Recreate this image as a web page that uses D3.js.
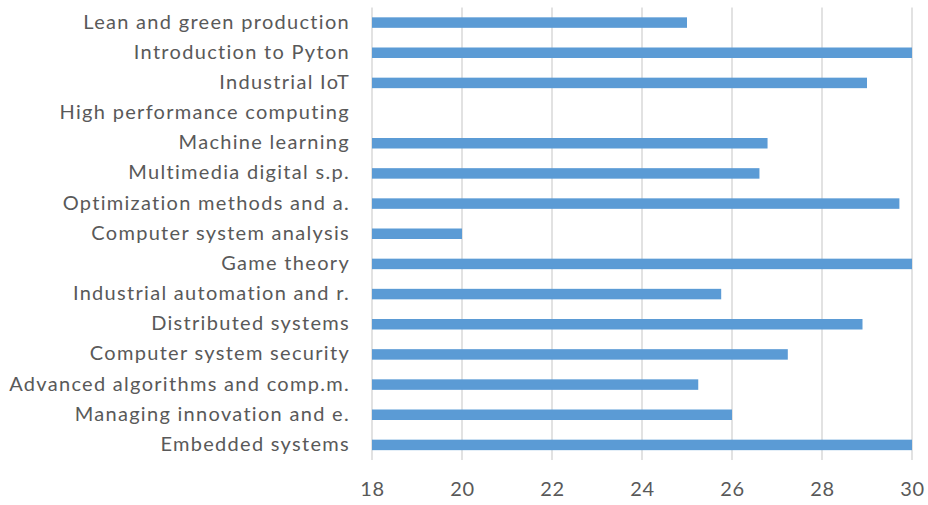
<!DOCTYPE html>
<html><head><meta charset="utf-8">
<script src="https://cdn.jsdelivr.net/npm/d3@7"></script>
<style>body{margin:0;background:#fff}svg{display:block}</style>
</head><body>
<script>
const categories = ["Lean and green production","Introduction to Pyton","Industrial IoT","High performance computing","Machine learning","Multimedia digital s.p.","Optimization methods and a.","Computer system analysis","Game theory","Industrial automation and r.","Distributed systems","Computer system security","Advanced algorithms and comp.m.","Managing innovation and e.","Embedded systems"];
const values = [25.0, 30.0, 29.0, null, 26.79, 26.61, 29.72, 20.0, 30.0, 25.76, 28.9, 27.24, 25.25, 26.0, 30.0];
const xTicks = [18, 20, 22, 24, 26, 28, 30];

const W = 928, H = 505;
const m = {left: 372, right: 16, top: 7.5, bottom: 45};
const svg = d3.select("body").append("svg").attr("width", W).attr("height", H);

const x = d3.scaleLinear().domain([18, 30]).range([m.left, W - m.right]);
const y = d3.scaleBand().domain(categories).range([m.top, H - m.bottom]).paddingInner(0.652).paddingOuter(0.326);

const font = "Lato, 'Open Sans', sans-serif";

// gridlines
svg.append("g").selectAll("line").data(xTicks).join("line")
  .attr("x1", d => x(d)).attr("x2", d => x(d))
  .attr("y1", m.top).attr("y2", H - m.bottom)
  .attr("stroke", "#d9d9d9").attr("stroke-width", 1.5);

// bars
svg.append("g").selectAll("rect").data(categories.map((c, i) => ({c, v: values[i]})).filter(d => d.v != null)).join("rect")
  .attr("x", x(18)).attr("y", d => y(d.c))
  .attr("width", d => Math.max(0, x(d.v) - x(18)))
  .attr("height", y.bandwidth())
  .attr("fill", "#5b9bd5");

// x axis
const xa = svg.append("g").attr("transform", `translate(0,${H - m.bottom})`)
  .call(d3.axisBottom(x).tickValues(xTicks).tickSize(0).tickPadding(22).tickFormat(d3.format("d")));
xa.select(".domain").remove();
xa.selectAll("text").attr("fill", "#595959").style("font-family", font).style("font-size", "20px").style("letter-spacing", "0.6px");

// y axis
const ya = svg.append("g").attr("transform", `translate(${m.left - 22},0)`)
  .call(d3.axisLeft(y).tickSize(0).tickPadding(0));
ya.select(".domain").remove();
ya.selectAll("text").attr("fill", "#595959").style("font-family", font).style("font-size", "20px")
  .style("letter-spacing", "1.3px").attr("dy", "0.3em");
</script>
</body></html>
